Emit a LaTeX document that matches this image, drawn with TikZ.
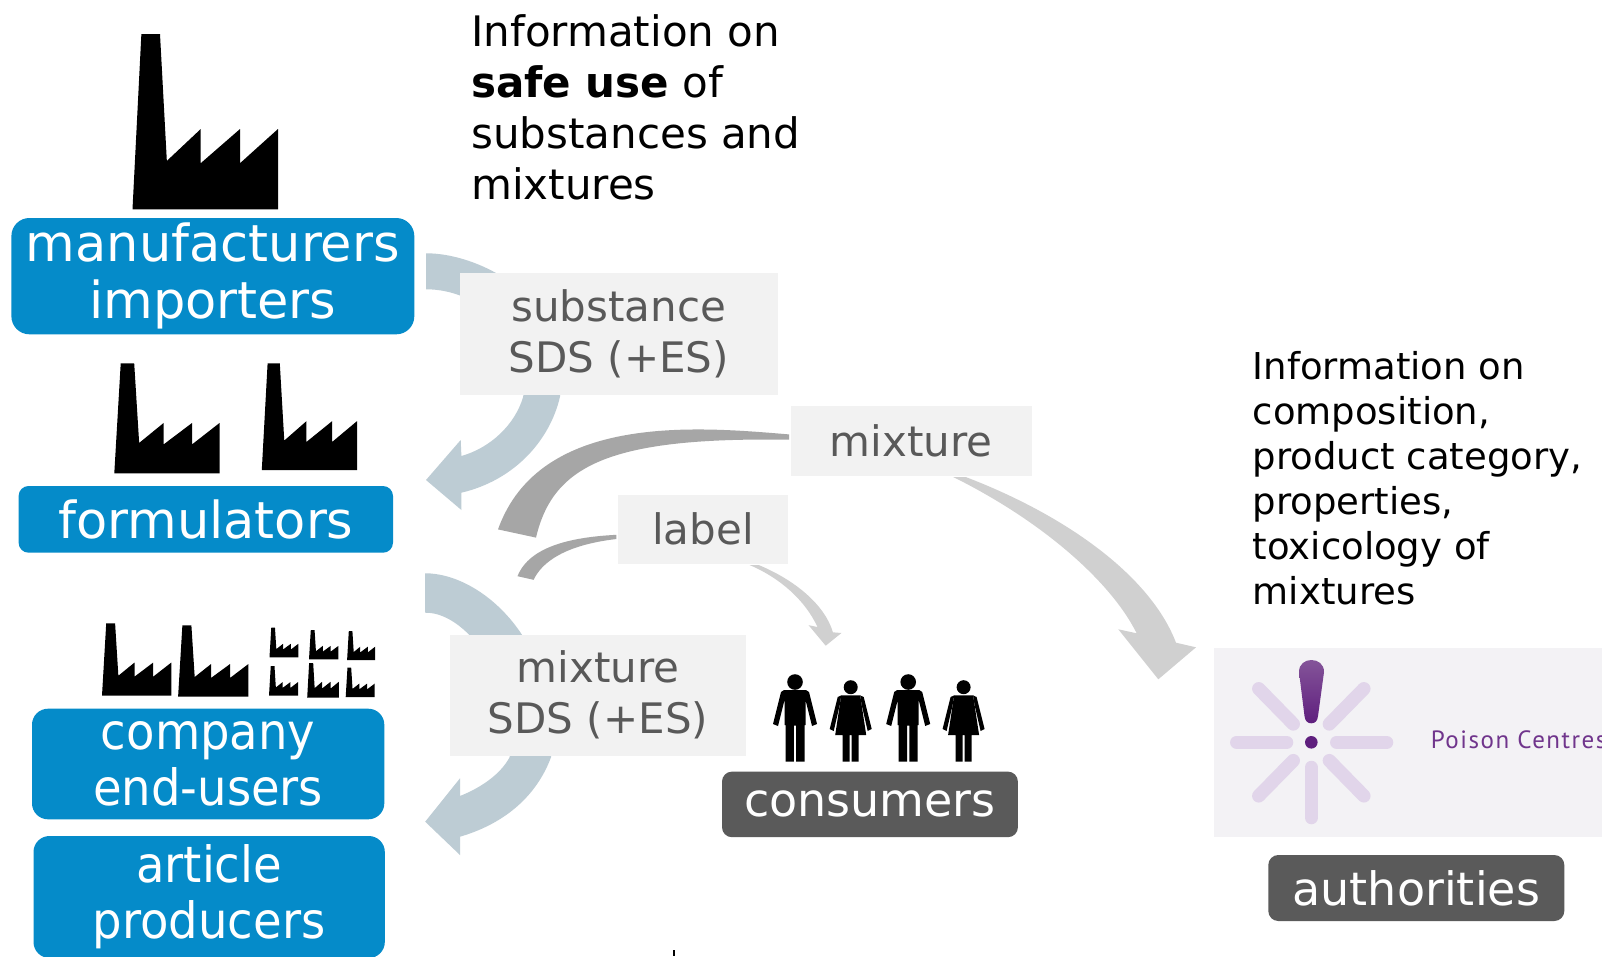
\documentclass[tikz,border=0pt]{standalone}
\usepackage{fontspec}
\setmainfont{DejaVu Sans}
\newfontfamily\condfont{DejaVu Sans}[FakeStretch=0.93]
\newfontfamily\poisonfont{PT Sans}[LetterSpace=6]
\usetikzlibrary{shapes.geometric}
\definecolor{boxblue}{HTML}{058BC9}
\definecolor{darkbox}{HTML}{5A5A5A}
\definecolor{labelbg}{HTML}{F2F2F2}
\definecolor{labeltxt}{HTML}{595959}
\definecolor{arrowblue}{HTML}{BDCCD4}
\definecolor{arrowdark}{HTML}{A6A6A6}
\definecolor{arrowlight}{HTML}{D0D0D0}
\definecolor{poisonbg}{HTML}{F3F2F5}
\definecolor{raycol}{HTML}{E1D5EA}
\definecolor{poisonpurple}{HTML}{70358C}
\definecolor{excltop}{HTML}{845499}
\definecolor{exclbot}{HTML}{5F1F7E}
\tikzset{
  actorbox/.style={fill=boxblue,text=white,rounded corners=#1,inner sep=0pt,align=center},
  actorbox/.default=16pt,
  darkactor/.style={fill=darkbox,text=white,rounded corners=10pt,inner sep=0pt,align=center,font=\fontsize{46}{56}\selectfont},
  infolabel/.style={fill=labelbg,text=labeltxt,inner sep=0pt,align=center,font=\fontsize{42}{51}\selectfont},
  infotext/.style={anchor=north west,inner sep=0pt,align=left,text=black},
  ray/.style={draw=raycol,line width=13.3pt,line cap=round},
}
\newcommand{\factoryicon}[4]{%
  \begin{scope}[shift={(#1,#2)},xscale={#3-#1},yscale={#4-#2}]
    \fill[black] (0,1) -- (0.061,0) -- (0.189,0) -- (0.236,0.724) -- (0.469,0.542) -- (0.469,0.737)
      -- (0.739,0.542) -- (0.739,0.737) -- (1,0.542) -- (1,1) -- cycle;
  \end{scope}}
\newcommand{\manicon}[1]{%
  \begin{scope}[shift={(#1,0)}]
    \fill[black] (0,682) circle (7.8);
    \fill[black] (-11,690) -- (11,690) -- (14,692) -- (22,724) -- (17,726) -- (10.5,700) -- (10.5,725)
      -- (9.5,725) -- (9.5,761.7) -- (1.2,761.7) -- (1.2,725.5) -- (-1.2,725.5) -- (-1.2,761.7)
      -- (-9.5,761.7) -- (-9.5,725) -- (-10.5,725) -- (-10.5,700) -- (-17,726) -- (-22,724) -- (-14,692) -- cycle;
  \end{scope}}
\newcommand{\womanicon}[1]{%
  \begin{scope}[shift={(#1,0)}]
    \fill[black] (0,687.2) circle (7);
    \fill[black] (-9.5,695.4) -- (9.5,695.4) -- (15.5,735) -- (8,735) -- (8,761.7) -- (1,761.7) -- (1,735)
      -- (-1,735) -- (-1,761.7) -- (-8,761.7) -- (-8,735) -- (-15.5,735) -- cycle;
    \fill[black] (9.5,695.4) -- (13,697) -- (21,729) -- (17,731) -- (11,705) -- cycle;
    \fill[black] (-9.5,695.4) -- (-13,697) -- (-21,729) -- (-17,731) -- (-11,705) -- cycle;
  \end{scope}}
\begin{document}
\begin{tikzpicture}[x=1pt,y=-1pt]
\useasboundingbox (0,0) rectangle (1602,956);
\fill[white] (0,0) rectangle (1602,956);

% block arrows
\fill[arrowblue] (426,253.3) .. controls (480,253) and (575,300) .. (560,396.7)
  .. controls (550,440) and (515,480) .. (461.4,492.7) -- (461.4,510) -- (426,480) -- (460.7,440) -- (461.4,456)
  .. controls (490,448) and (515,425) .. (523.2,396.7) .. controls (530,330) and (475,289) .. (426,289.3) -- cycle;
\fill[arrowblue] (425.2,573.3) .. controls (480,573) and (560,640) .. (551,757.3)
  .. controls (535,800) and (500,825) .. (460,836.7) -- (460,855) -- (425.2,821.7) -- (460,778.3) -- (460,796)
  .. controls (480,788) and (500,775) .. (509.6,757.3) .. controls (520,690) and (470,612) .. (425.2,612.7) -- cycle;
\fill[arrowdark] (789,434.4) .. controls (700,427) and (540,412) .. (498,529.4) -- (536,537.6)
  .. controls (553,465) and (610,437) .. (789,439.7) -- cycle;
\fill[arrowdark] (616.4,534.8) .. controls (575,537) and (530,545) .. (517.5,576.2) -- (533.6,579.8)
  .. controls (542,562) and (565,545) .. (616.4,539) -- cycle;
\fill[arrowlight] (758.6,565) .. controls (795,580) and (825,605) .. (832.9,632.3) -- (841.4,633)
  -- (825.7,645.7) -- (808.6,625.2) -- (817.5,627) .. controls (805,600) and (780,578) .. (749.6,565) -- cycle;
\fill[arrowlight] (965.7,477) .. controls (1065,515) and (1150,575) .. (1176,642.7) -- (1196,647.3)
  -- (1158.3,679.3) -- (1118.3,629.3) -- (1136.7,633.3) .. controls (1110,580) and (1040,520) .. (953.2,477) -- cycle;

% factories
\factoryicon{132.5}{34}{278}{209.3}
\factoryicon{114.3}{363.3}{219.6}{473.3}
\factoryicon{261.8}{363.3}{357}{470}
\factoryicon{102}{623.3}{171.3}{695.7}
\factoryicon{178.1}{625.3}{248.4}{696.7}
\factoryicon{269.5}{627.7}{298.4}{657.3}
\factoryicon{309}{630}{338.4}{659.3}
\factoryicon{347.1}{631}{375.1}{660}
\factoryicon{269}{666}{298}{695.7}
\factoryicon{307.2}{663}{338.8}{697.7}
\factoryicon{345.7}{667.7}{374.7}{697}

% actor boxes
\node[actorbox=18pt,minimum width=402.9pt,minimum height=116.3pt,font=\fontsize{51}{57}\selectfont] (manuf) at (212.85,276.15) {manufacturers\\importers};
\node[actorbox=10pt,minimum width=374.4pt,minimum height=66.7pt,font=\fontsize{51}{57}\selectfont] (formul) at (205.8,519.35) {formulators};
\node[actorbox=16pt,minimum width=352.3pt,minimum height=110.6pt,font=\fontsize{50}{56}\condfont] (company) at (208.15,764) {company\\end-users};
\node[actorbox=16pt,minimum width=351.3pt,minimum height=122pt,font=\fontsize{50}{56}\condfont] (article) at (209.15,897) {article\\producers};
\node[darkactor,minimum width=295.9pt,minimum height=65.6pt] (consumers) at (869.95,804.4) {consumers};
\node[darkactor,minimum width=296pt,minimum height=66pt] (authorities) at (1416.3,888) {authorities};

% label boxes
\node[infolabel,minimum width=317.5pt,minimum height=122pt] (subst) at (618.75,334) {substance\\SDS (+ES)};
\node[infolabel,minimum width=241.1pt,minimum height=69.5pt] (mixture) at (911.25,440.75) {mixture};
\node[infolabel,minimum width=170pt,minimum height=69.1pt] (labelbox) at (702.9,529.25) {label};
\node[infolabel,minimum width=296pt,minimum height=120.9pt] (mixsds) at (598,695.25) {mixture\\SDS (+ES)};

% people
\manicon{795}
\womanicon{850.7}
\manicon{908.2}
\womanicon{963.6}

% texts
\node[infotext,font=\fontsize{42}{51}\selectfont] (safeuse) at (471,14) {Information on\\\textbf{safe use} of\\substances and\\mixtures};
\node[infotext,font=\fontsize{37}{45}\selectfont] (composition) at (1252.6,351) {Information on\\composition,\\product category,\\properties,\\toxicology of\\mixtures};

% poison centres logo
\fill[poisonbg] (1214,648) rectangle (1602,836.7);
\coordinate (pc) at (1311.3,742.3);
\draw[ray] (1236.7,742.3) -- (1286.6,742.3);
\draw[ray] (1336.7,742.3) -- (1386.6,742.3);
\draw[ray] (1311.3,767.4) -- (1311.3,817.6);
\draw[ray] (1258.7,688.7) -- (1293.3,724);
\draw[ray] (1363.9,688.7) -- (1329.3,724);
\draw[ray] (1258.7,795.9) -- (1293.3,760.6);
\draw[ray] (1363.9,795.9) -- (1329.3,760.6);
\shade[top color=excltop,bottom color=exclbot] (1299,672) .. controls (1299,664) and (1305,660) .. (1311.3,660)
  .. controls (1318,660) and (1324,664) .. (1324,672) -- (1318,716) .. controls (1317.5,721) and (1315,723.3) .. (1311.3,723.3)
  .. controls (1307.5,723.3) and (1305,721) .. (1304.5,716) -- cycle;
\fill[exclbot] (pc) circle (6.3);
\node[anchor=base west,inner sep=0pt,text=poisonpurple,font=\fontsize{25}{30}\poisonfont] (poison) at (1430.7,748) {Poison Centres};

% stray mark at the bottom edge
\fill[black] (673,950) rectangle (674.5,956);
\end{tikzpicture}
\end{document}
